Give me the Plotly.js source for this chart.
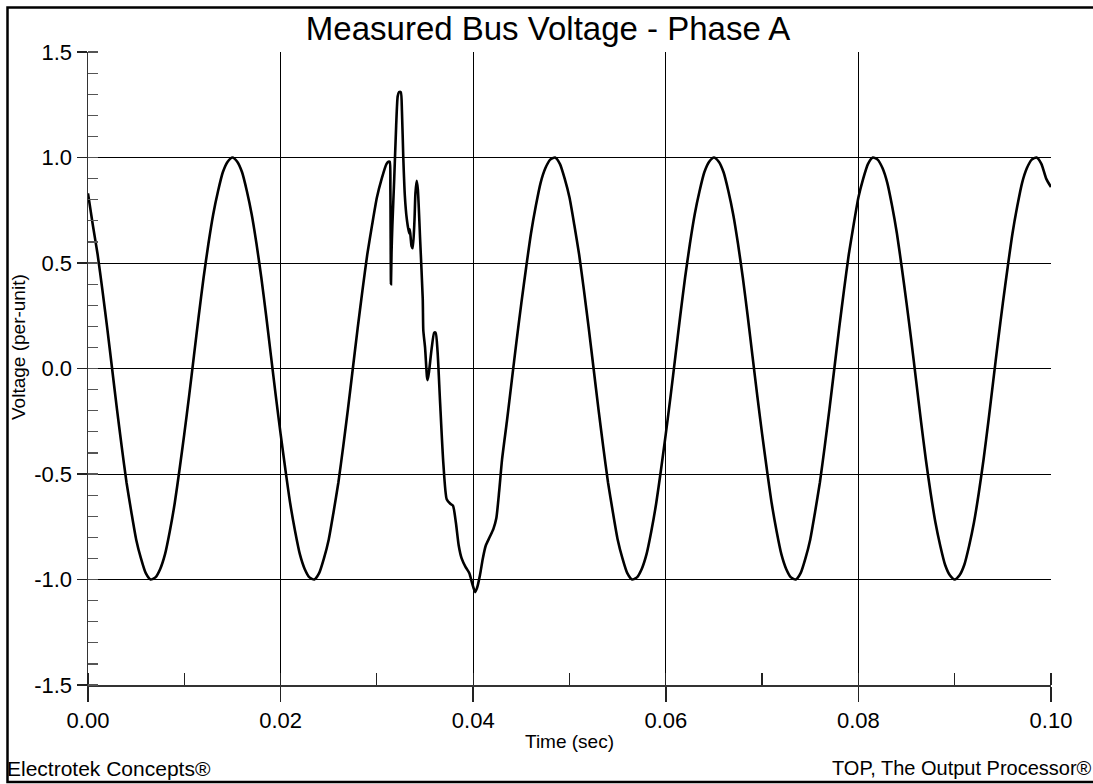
<!DOCTYPE html>
<html>
<head>
<meta charset="utf-8">
<script src="https://cdn.plot.ly/plotly-3.0.1.min.js"></script>
<style>
  html, body { margin: 0; padding: 0; background: #ffffff; }
  #chart { width: 1093px; height: 784px; }
</style>
</head>
<body>
<div id="chart"></div>
<script>
// ---- Data ----
// Sampling interval of the steady-state parts (seconds)
const sampleInterval = 0.0005;

// Steady waveform, t = 0.0000 ... 0.0310 s (per-unit)
const steadyStartT = 0.0;
const steadyBefore = [
  0.83, 0.68, 0.54, 0.37, 0.19, 0.00, -0.19, -0.37, -0.54, -0.68,
  -0.81, -0.90, -0.97, -1.00, -0.99, -0.95, -0.88, -0.77, -0.64, -0.48,
  -0.31, -0.13, 0.06, 0.25, 0.43, 0.59, 0.73, 0.84, 0.93, 0.98,
  1.00, 0.98, 0.93, 0.84, 0.73, 0.59, 0.43, 0.25, 0.06, -0.13,
  -0.31, -0.48, -0.64, -0.77, -0.88, -0.95, -0.99, -1.00, -0.97, -0.90,
  -0.81, -0.68, -0.54, -0.37, -0.19, 0.00, 0.19, 0.37, 0.54, 0.68,
  0.81, 0.90, 0.97
];

// Disturbance, t = 0.0312 ... 0.0427 s
const transientT = [
  0.03120, 0.03133, 0.03140, 0.03146, 0.03152, 0.03160, 0.03180, 0.03200, 0.03216, 0.03230,
  0.03248, 0.03260, 0.03274, 0.03290, 0.03310, 0.03335, 0.03342, 0.03360, 0.03372, 0.03390,
  0.03400, 0.03413, 0.03425, 0.03450, 0.03476, 0.03482, 0.03500, 0.03520, 0.03527, 0.03540,
  0.03570, 0.03595, 0.03610, 0.03630, 0.03655, 0.03690, 0.03725, 0.03760, 0.03790, 0.03820,
  0.03850, 0.03880, 0.03920, 0.03960, 0.03990, 0.04020, 0.04040, 0.04070, 0.04100, 0.04130,
  0.04170, 0.04210, 0.04240, 0.04270
];
const transientV = [
  0.98, 0.98, 0.85, 0.40, 0.55, 0.67, 0.90, 1.15, 1.29, 1.31,
  1.31, 1.22, 1.00, 0.82, 0.71, 0.64, 0.66, 0.58, 0.57, 0.70,
  0.83, 0.89, 0.85, 0.60, 0.33, 0.18, 0.10, -0.04, -0.055, -0.02,
  0.10, 0.17, 0.17, 0.08, -0.15, -0.45, -0.62, -0.64, -0.65, -0.73,
  -0.84, -0.90, -0.94, -0.97, -1.02, -1.06, -1.04, -0.98, -0.90, -0.84,
  -0.80, -0.76, -0.71, -0.58
];

// Steady waveform again, t = 0.0430 ... 0.1000 s
const steadyAfterStartT = 0.043;
const steadyAfter = [
  -0.43, -0.25, -0.06, 0.13, 0.31, 0.48, 0.64, 0.77, 0.88, 0.95,
  0.99, 1.00, 0.97, 0.90,
  0.81, 0.68, 0.54, 0.37, 0.19, 0.00, -0.19, -0.37, -0.54, -0.68,
  -0.81, -0.90, -0.97, -1.00, -0.99, -0.95, -0.88, -0.77, -0.64, -0.48,
  -0.31, -0.13, 0.06, 0.25, 0.43, 0.59, 0.73, 0.84, 0.93, 0.98,
  1.00, 0.98, 0.93, 0.84, 0.73, 0.59, 0.43, 0.25, 0.06, -0.13,
  -0.31, -0.48, -0.64, -0.77, -0.88, -0.95, -0.99, -1.00, -0.97, -0.90,
  -0.81, -0.68, -0.54, -0.37, -0.19, 0.00, 0.19, 0.37, 0.54, 0.68,
  0.81, 0.90, 0.97,
  1.00, 0.99, 0.95, 0.88, 0.77, 0.64, 0.48, 0.31, 0.13, -0.06,
  -0.25, -0.43, -0.59, -0.73, -0.84, -0.93, -0.98, -1.00, -0.98, -0.93,
  -0.84, -0.73, -0.59, -0.43, -0.25, -0.06, 0.13, 0.31, 0.48, 0.64,
  0.77, 0.88, 0.95, 0.99, 1.00, 0.97, 0.90,
  0.86
];

// Axis ticks
const xTickVals = [0, 0.02, 0.04, 0.06, 0.08, 0.10];
const xTickText = ["0.00", "0.02", "0.04", "0.06", "0.08", "0.10"];
const yTickVals = [-1.5, -1.0, -0.5, 0.0, 0.5, 1.0, 1.5];
const yTickText = ["-1.5", "-1.0", "-0.5", "0.0", "0.5", "1.0", "1.5"];

const titleText = "Measured Bus Voltage - Phase A";
const xTitle = "Time (sec)";
const yTitle = "Voltage (per-unit)";
const footLeft = "Electrotek Concepts®";
const footRight = "TOP, The Output Processor®";

// ---- Build series ----
const tAll = [];
const vAll = [];
steadyBefore.forEach((v, i) => { tAll.push(+(steadyStartT + i * sampleInterval).toFixed(5)); vAll.push(v); });
transientT.forEach((t, i) => { tAll.push(t); vAll.push(transientV[i]); });
steadyAfter.forEach((v, i) => { tAll.push(+(steadyAfterStartT + i * sampleInterval).toFixed(5)); vAll.push(v); });

// ---- Layout geometry (pixels) ----
const W = 1093, H = 784;
const L = 88, R = 1051, T = 52, B = 685;
const pw = R - L, ph = B - T;
const px = x => (x - L) / pw;     // pixel -> paper x
const py = y => (B - y) / ph;     // pixel -> paper y

const FONT = "Liberation Sans, Arial, Helvetica, sans-serif";

const trace = {
  x: tAll, y: vAll, type: "scatter", mode: "lines",
  line: { color: "#000000", width: 2.6, shape: "spline", smoothing: 0.6 },
  hoverinfo: "skip", showlegend: false
};

const layout = {
  width: W, height: H,
  paper_bgcolor: "#ffffff", plot_bgcolor: "#ffffff",
  margin: { l: L, r: W - R, t: T, b: H - B, pad: 0 },
  showlegend: false,
  title: {
    text: titleText,
    font: { family: FONT, size: 33, color: "#000000" },
    x: px(548), xanchor: "center", xref: "paper",
    y: 1 - 28 / H, yanchor: "middle", yref: "container"
  },
  xaxis: {
    range: [0, 0.1], fixedrange: true,
    tickmode: "array", tickvals: xTickVals, ticktext: xTickText,
    ticks: "outside", ticklen: 15, tickwidth: 1.5, tickcolor: "#222222",
    showgrid: true, gridcolor: "#000000", gridwidth: 1,
    showline: true, linecolor: "#333333", linewidth: 1.5,
    zeroline: false,
    tickfont: { family: FONT, size: 22, color: "#000000" },
    minor: { tickmode: "linear", tick0: 0, dtick: 0.01, ticks: "inside", ticklen: 12, tickwidth: 1.2, tickcolor: "#222222", showgrid: false },
    title: { text: xTitle, font: { family: FONT, size: 19, color: "#000000" }, standoff: 3 },
    automargin: false
  },
  yaxis: {
    range: [-1.5, 1.5], fixedrange: true,
    tickmode: "array", tickvals: yTickVals, ticktext: yTickText,
    ticks: "outside", ticklen: 10, tickwidth: 1.5, tickcolor: "#222222",
    showgrid: true, gridcolor: "#000000", gridwidth: 1,
    showline: true, linecolor: "#333333", linewidth: 1.5,
    zeroline: false,
    tickfont: { family: FONT, size: 22, color: "#000000" },
    minor: { tickmode: "linear", tick0: -1.5, dtick: 0.1, ticks: "inside", ticklen: 10, tickwidth: 1.2, tickcolor: "#555555", showgrid: false },
    automargin: false
  },
  annotations: [
    { text: yTitle, textangle: -90, xref: "paper", yref: "paper", x: px(18), y: py(347), xanchor: "center", yanchor: "middle",
      showarrow: false, font: { family: FONT, size: 19, color: "#000000" } },
    { text: footLeft, xref: "paper", yref: "paper", x: px(5), y: py(768), xanchor: "left", yanchor: "middle",
      showarrow: false, font: { family: FONT, size: 21, color: "#000000" } },
    { text: footRight, xref: "paper", yref: "paper", x: px(1094), y: py(768), xanchor: "right", yanchor: "middle",
      showarrow: false, font: { family: FONT, size: 20, color: "#000000" } }
  ],
  shapes: [
    { type: "rect", xref: "paper", yref: "paper", x0: px(7.5), x1: px(1096), y0: py(782), y1: py(7.5),
      line: { color: "#000000", width: 2.5 }, fillcolor: "rgba(0,0,0,0)", layer: "above" }
  ]
};

Plotly.newPlot("chart", [trace], layout, { staticPlot: true, displayModeBar: false });
</script>
</body>
</html>
